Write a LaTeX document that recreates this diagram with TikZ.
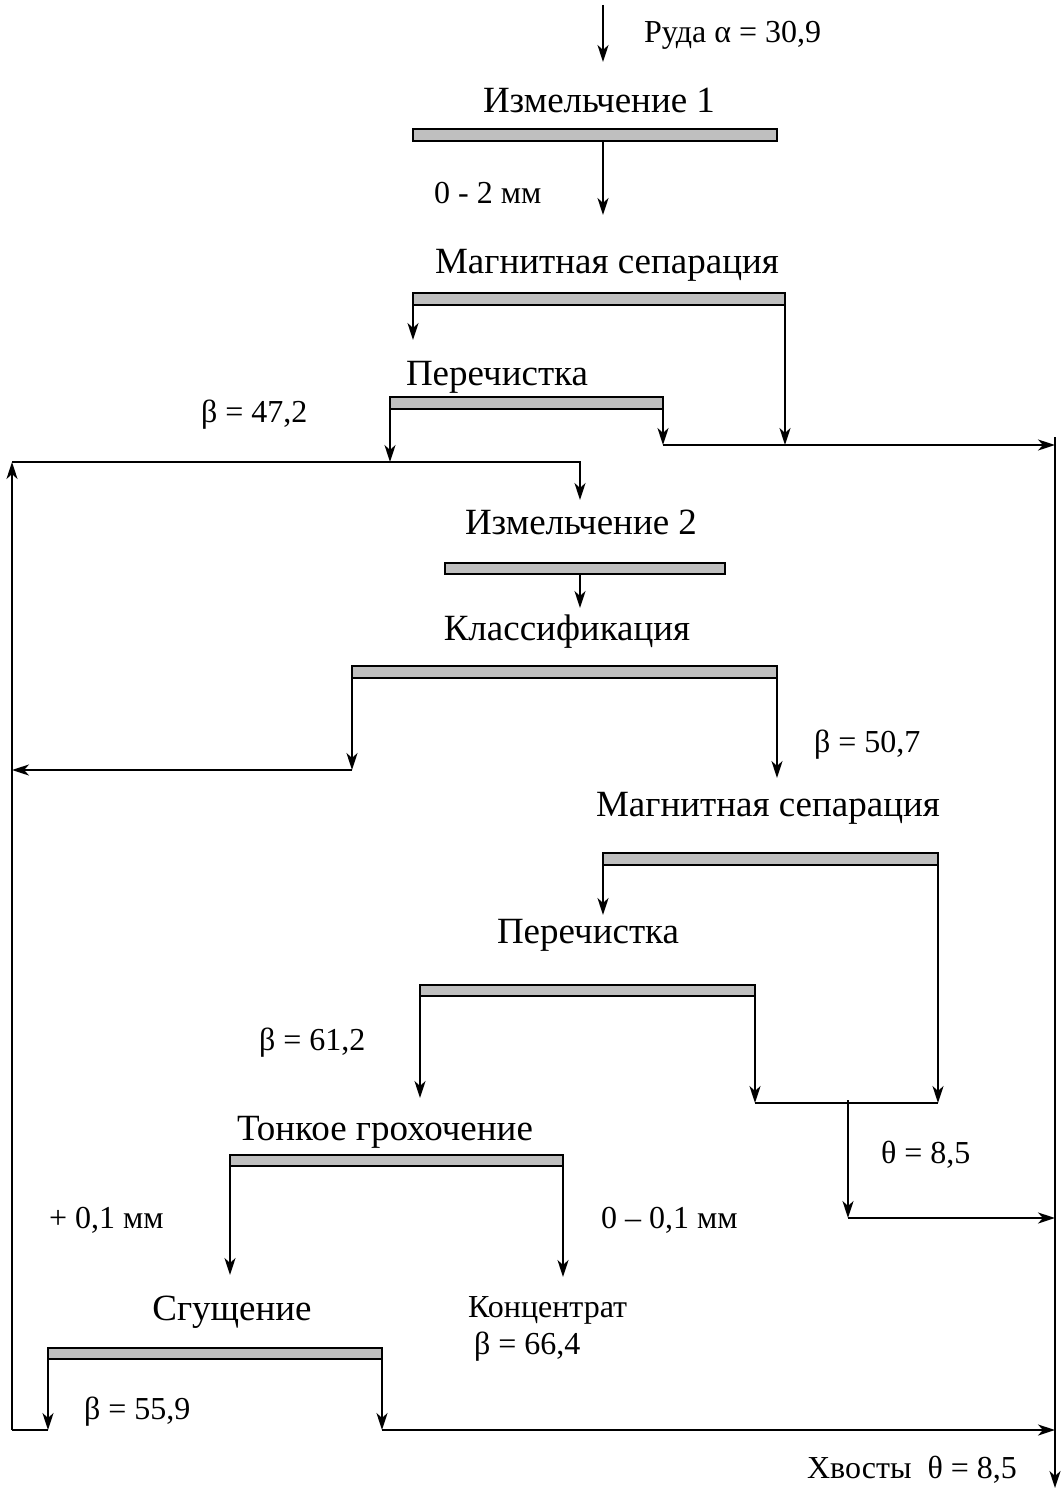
\documentclass[tikz,border=0pt]{standalone}
\usepackage{fontspec}
\setmainfont{Liberation Serif}
\usetikzlibrary{arrows.meta}
\begin{document}
\begin{tikzpicture}[x=1pt,y=-1pt,
  line width=2.2pt,
  arr/.style={-{Stealth[length=17pt,width=11pt,inset=5pt]}},
  bar/.style={draw,line width=2pt,fill=black!25,inner sep=0pt,outer sep=0pt,minimum height=12pt},
  big/.style={font=\fontsize{37}{42}\selectfont,inner sep=0pt},
  small/.style={font=\fontsize{32}{36}\selectfont,inner sep=0pt,anchor=west}]
\useasboundingbox (0,0) rectangle (1060,1490);

% labels
\node[big] (l1) at (599,100) {Измельчение 1};
\node[big] (l2) at (607,265) {Магнитная сепарация};
\node[big] (l3) at (497,377) {Перечистка};
\node[big] (l4) at (581,522) {Измельчение 2};
\node[big] (l5) at (567,632) {Классификация};
\node[big] (l6) at (768,808) {Магнитная сепарация};
\node[big] (l7) at (588,935) {Перечистка};
\node[big] (l8) at (385,1132) {Тонкое грохочение};
\node[big] (l9) at (232,1312) {Сгущение};

\node[small] (t0) at (643,35) {Руда α = 30,9};
\node[small] (t1) at (433,193) {0 - 2 мм};
\node[small] (t2) at (200,415) {β = 47,2};
\node[small] (t3) at (813,745) {β = 50,7};
\node[small] (t4) at (258,1043) {β = 61,2};
\node[small] (t5) at (880,1155) {θ = 8,5};
\node[small] (t6) at (48,1220) {+ 0,1 мм};
\node[small] (t7) at (600,1220) {0 – 0,1 мм};
\node[small] (t8) at (467,1310) {Концентрат};
\node[small] (t9) at (473,1347) {β = 66,4};
\node[small] (t10) at (83,1412) {β = 55,9};
\node[small] (t11) at (806,1470) {Хвосты\ \ θ = 8,5};

% bars
\node[bar,minimum width=364pt] (b1) at (595,135) {};
\node[bar,minimum width=372pt] (b2) at (599,299) {};
\node[bar,minimum width=273pt] (b3) at (526.5,403) {};
\node[bar,minimum width=280pt,minimum height=11pt] (b4) at (585,568) {};
\node[bar,minimum width=425pt] (b5) at (564.5,672) {};
\node[bar,minimum width=335pt] (b6) at (770.5,859) {};
\node[bar,minimum width=335pt,minimum height=11pt] (b7) at (587.5,990) {};
\node[bar,minimum width=333pt,minimum height=11pt] (b8) at (396.5,1160) {};
\node[bar,minimum width=334pt,minimum height=11pt] (b9) at (215,1353) {};

% coordinates
\coordinate (feed) at (603,5);
\coordinate (feedT) at (603,62);
\coordinate (a1) at (603,215);
\coordinate (a2) at (413,340);
\coordinate (a3) at (785,445);
\coordinate (a4) at (390,462);
\coordinate (a5) at (663,445);
\coordinate (tA) at (1055,445);
\coordinate (tTop) at (1055,437);
\coordinate (tEnd) at (1055,1488);
\coordinate (rBot) at (12,1430);
\coordinate (rTop) at (12,462);
\coordinate (rC) at (580,462);
\coordinate (a6) at (580,500);
\coordinate (a7) at (580,608);
\coordinate (a8) at (352,770);
\coordinate (rMid) at (12,770);
\coordinate (a9) at (777,778);
\coordinate (a10) at (603,915);
\coordinate (a11) at (938,1103);
\coordinate (a12) at (420,1098);
\coordinate (a13) at (755,1103);
\coordinate (j1) at (848,1103);
\coordinate (a14) at (848,1218);
\coordinate (tB) at (1055,1218);
\coordinate (a15) at (230,1275);
\coordinate (a16) at (563,1277);
\coordinate (a17) at (48,1430);
\coordinate (a18) at (382,1430);
\coordinate (tC) at (1055,1430);

% connectors
\draw[arr] (feed) -- (feedT);
\draw[arr] (b1.south -| a1) -- (a1);
\draw[arr] (b2.south west) -- (a2);
\draw[arr] (b2.south east) -- (a3);
\draw[arr] (b3.south west) -- (a4);
\draw[arr] (b3.south east) -- (a5);
\draw[arr] (a5) -- (tA);
\draw[arr] (tTop) -- (tEnd);
\draw[arr] (rBot) -- (rTop);
\draw[arr] (rTop) -- (rC) -- (a6);
\draw[arr] (b4.south -| a7) -- (a7);
\draw[arr] (b5.south west) -- (a8);
\draw[arr] (a8) -- (rMid);
\draw[arr] (b5.south east) -- (a9);
\draw[arr] (b6.south west) -- (a10);
\draw[arr] (b6.south east) -- (a11);
\draw[arr] (b7.south west) -- (a12);
\draw[arr] (b7.south east) -- (a13);
\draw (a13) -- (a11);
\draw[arr] ([yshift=3pt]j1) -- (a14);
\draw[arr] (a14) -- (tB);
\draw[arr] (b8.south west) -- (a15);
\draw[arr] (b8.south east) -- (a16);
\draw[arr] (b9.south west) -- (a17);
\draw (a17) -- (rBot);
\draw[arr] (b9.south east) -- (a18);
\draw[arr] (a18) -- (tC);
\end{tikzpicture}
\end{document}
